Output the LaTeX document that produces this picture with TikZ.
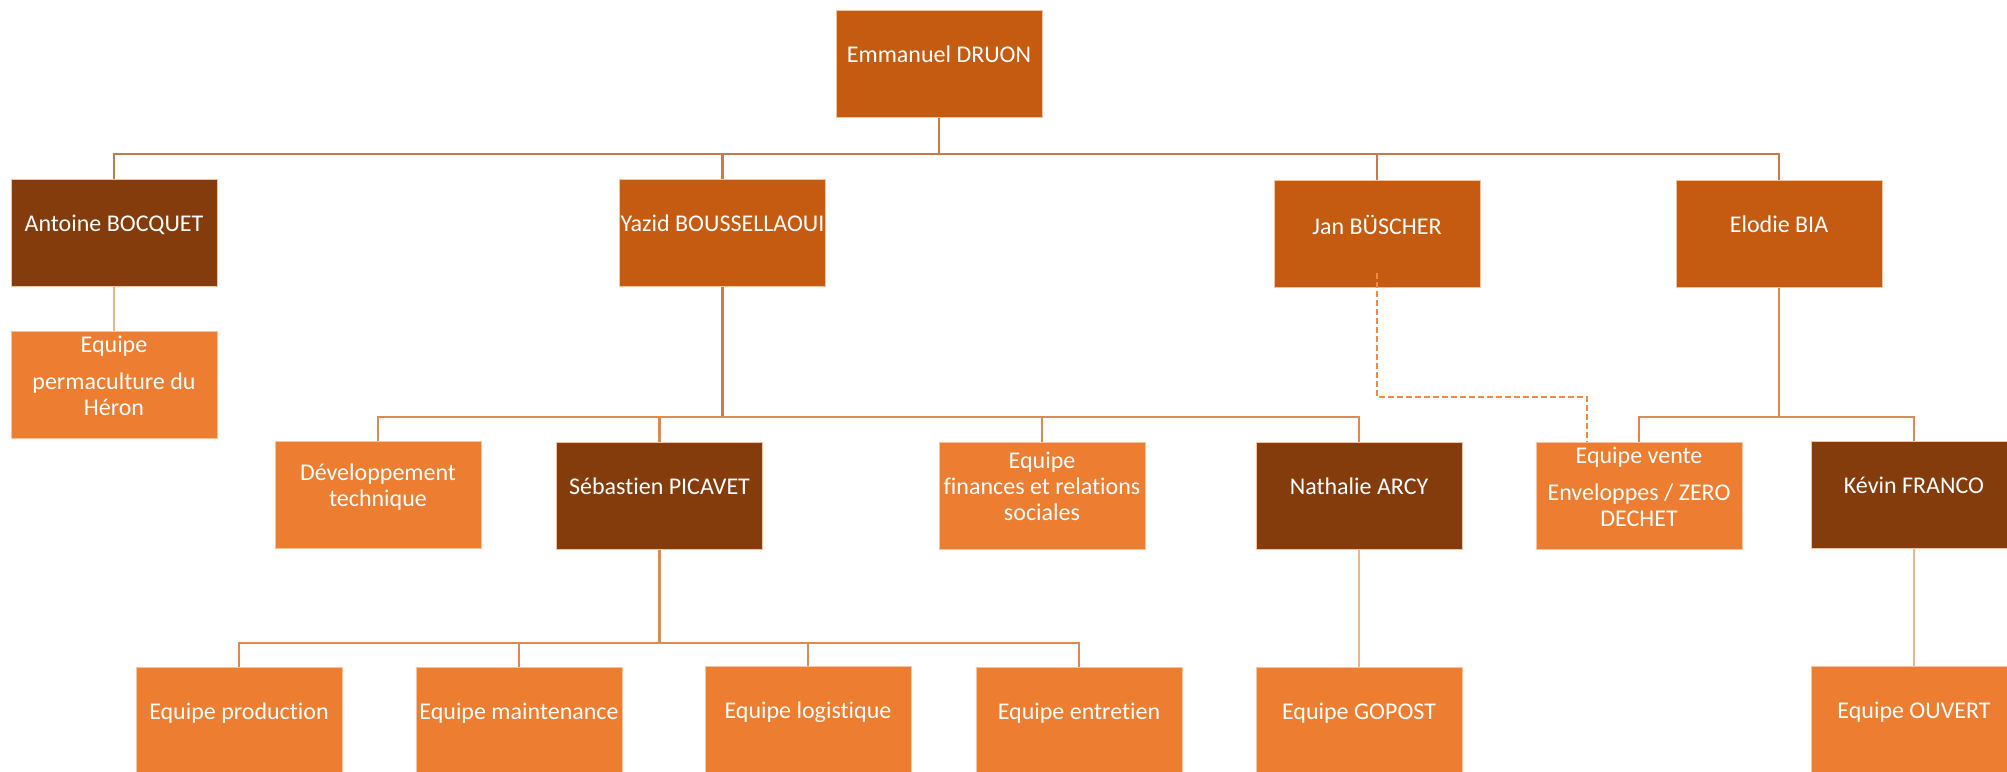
\documentclass[tikz,border=0pt]{standalone}
\usepackage{fontspec}
\setmainfont{Carlito}[Ligatures=NoCommon]
\definecolor{cdark}{HTML}{C55A11}
\definecolor{cbrown}{HTML}{843C0C}
\definecolor{clight}{HTML}{ED7D31}
\definecolor{cborder}{HTML}{F6C3A0}
\definecolor{lineA}{HTML}{C97A48}
\definecolor{lineB}{HTML}{DD8A52}
\definecolor{lineC}{HTML}{F0B48A}
\definecolor{lineD}{HTML}{F08A45}
\tikzset{
  box/.style={rectangle, draw=cborder, line width=0.5pt, inner sep=0pt,
    minimum width=103pt, minimum height=53.5pt, text=white, align=center,
    font=\fontsize{12pt}{13pt}\selectfont, text depth=9.5pt},
  bdark/.style={box, fill=cdark},
  bbrown/.style={box, fill=cbrown},
  blight/.style={box, fill=clight},
  connA/.style={draw=lineA, line width=1.2pt},
  connB/.style={draw=lineB, line width=1.2pt},
  connC/.style={draw=lineC, line width=1.2pt},
  connD/.style={draw=lineD, line width=0.9pt, dashed, dash pattern=on 3pt off 1.5pt},
}
\begin{document}
\begin{tikzpicture}[x=0.5pt, y=-0.5pt]
\useasboundingbox (0,0) rectangle (2007,771);
\clip (0,0) rectangle (2007,771);
% level 0
\node[bdark] (druon) at (939,64) {Emmanuel DRUON};
% level 1
\node[bbrown] (antoine) at (114,233) {Antoine BOCQUET};
\node[bdark] (yazid) at (722.5,233) {Yazid BOUSSELLAOUI};
\node[bdark] (jan) at (1377,234) {Jan BÜSCHER};
\node[bdark] (elodie) at (1779,234) {Elodie BIA};
% level 2
\node[blight] (perma) at (114,385) {Equipe\\[5.5pt]permaculture du\\Héron};
\node[blight] (devtech) at (378,495) {Développement\\technique};
\node[bbrown] (sebastien) at (659.5,496) {Sébastien PICAVET};
\node[blight] (finances) at (1042,496) {Equipe\\finances et relations\\sociales};
\node[bbrown] (nathalie) at (1359,496) {Nathalie ARCY};
\node[blight] (vente) at (1639,496) {Equipe vente\\[5.5pt]Enveloppes / ZERO\\DECHET};
\node[bbrown] (kevin) at (1914,495) {Kévin FRANCO};
% level 3
\node[blight] (production) at (239,721) {Equipe production};
\node[blight] (maintenance) at (519,721) {Equipe maintenance};
\node[blight] (logistique) at (808,720) {Equipe logistique};
\node[blight] (entretien) at (1079,721) {Equipe entretien};
\node[blight] (gopost) at (1359,721) {Equipe GOPOST};
\node[blight] (ouvert) at (1914,720) {Equipe OUVERT};
% bus coordinates
\coordinate (b0) at (939,154);
\coordinate (b1) at (722.5,417);
\coordinate (b2) at (1779,417);
\coordinate (b3) at (659.5,643);
\coordinate (jd) at (1377,273);
\coordinate (vd) at (1587,442);
% connectors from DRUON
\draw[connA] (druon.south) -- (b0);
\draw[connA] (b0) -| (antoine.north);
\draw[connA] (b0) -| (yazid.north);
\draw[connA] (b0) -| (jan.north);
\draw[connA] (b0) -| (elodie.north);
% Antoine
\draw[connC] (antoine.south) -- (perma.north);
% Yazid
\draw[connA] (yazid.south) -- (b1);
\draw[connB] (b1) -| (devtech.north);
\draw[connB] (b1) -| (sebastien.north);
\draw[connB] (b1) -| (finances.north);
\draw[connB] (b1) -| (nathalie.north);
% Elodie
\draw[connB] (elodie.south) -- (b2);
\draw[connB] (b2) -| (vente.north);
\draw[connB] (b2) -| (kevin.north);
% Sebastien
\draw[connB] (sebastien.south) -- (b3);
\draw[connB] (b3) -| (production.north);
\draw[connB] (b3) -| (maintenance.north);
\draw[connB] (b3) -| (logistique.north);
\draw[connB] (b3) -| (entretien.north);
% Nathalie, Kevin
\draw[connC] (nathalie.south) -- (gopost.north);
\draw[connC] (kevin.south) -- (ouvert.north);
% dashed from Jan
\draw[connD] (jd) -- ++(0,124) -| (vd);
\end{tikzpicture}
\end{document}
